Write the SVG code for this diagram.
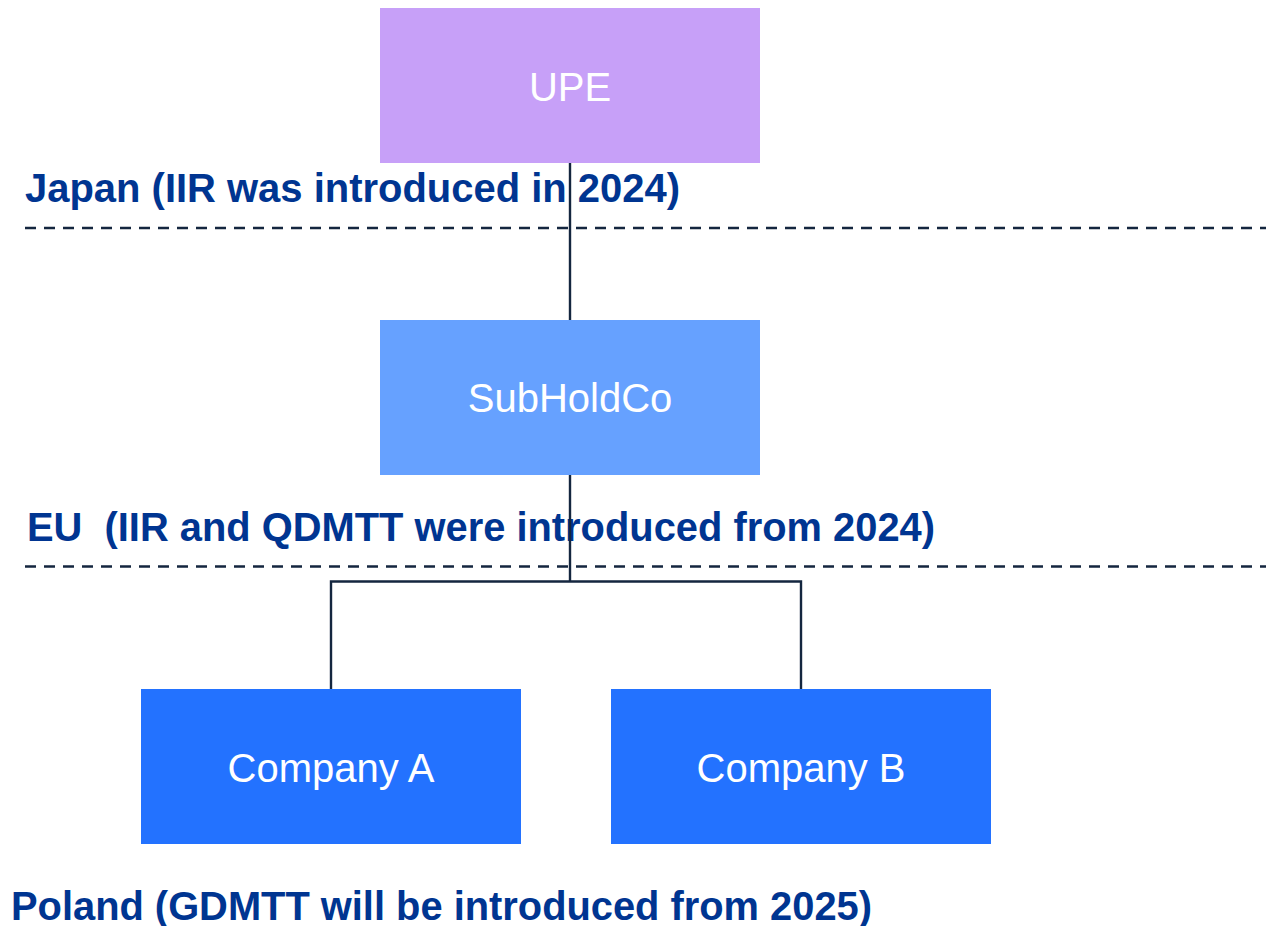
<svg xmlns="http://www.w3.org/2000/svg" width="1266" height="926" viewBox="0 0 1266 926">
  <style>
    .node-label { font-family: "Liberation Sans", Arial, sans-serif; font-size: 40px; fill: #ffffff; text-anchor: middle; }
    .zone-label { font-family: "Liberation Sans", Arial, sans-serif; font-size: 40px; font-weight: bold; fill: #003591; white-space: pre; }
    .boundary { stroke: #14263f; stroke-width: 2.6; stroke-dasharray: 11 8; fill: none; }
    .link { stroke: #14263f; stroke-width: 2.4; fill: none; }
  </style>
  <rect width="1266" height="926" fill="#ffffff"/>

  <!-- jurisdiction boundaries -->
  <g id="boundaries">
    <line class="boundary" x1="25" y1="228" x2="1266" y2="228"/>
    <line class="boundary" x1="25" y1="566.5" x2="1266" y2="566.5"/>
  </g>

  <!-- jurisdiction labels -->
  <g id="zone-labels">
    <text class="zone-label" x="25" y="202" textLength="655" lengthAdjust="spacingAndGlyphs">Japan (IIR was introduced in 2024)</text>
    <text class="zone-label" x="27" y="541" xml:space="preserve" textLength="908" lengthAdjust="spacingAndGlyphs">EU  (IIR and QDMTT were introduced from 2024)</text>
    <text class="zone-label" x="11" y="920" textLength="861" lengthAdjust="spacingAndGlyphs">Poland (GDMTT will be introduced from 2025)</text>
  </g>

  <!-- ownership connectors -->
  <g id="connectors">
    <line class="link" x1="570" y1="163" x2="570" y2="320"/>
    <polyline class="link" points="570,474 570,581.5"/>
    <polyline class="link" points="331,689 331,581.5 801,581.5 801,689"/>
  </g>

  <g id="upe">
    <rect x="380" y="8" width="380" height="155" fill="#c7a0f8"/>
    <text class="node-label" x="570" y="101">UPE</text>
  </g>

  <g id="subholdco">
    <rect x="380" y="320" width="380" height="155" fill="#66a1ff"/>
    <text class="node-label" x="570" y="412">SubHoldCo</text>
  </g>

  <g id="company-a">
    <rect x="141" y="689" width="380" height="155" fill="#2372ff"/>
    <text class="node-label" x="331" y="782">Company A</text>
  </g>

  <g id="company-b">
    <rect x="611" y="689" width="380" height="155" fill="#2372ff"/>
    <text class="node-label" x="801" y="782">Company B</text>
  </g>
</svg>
